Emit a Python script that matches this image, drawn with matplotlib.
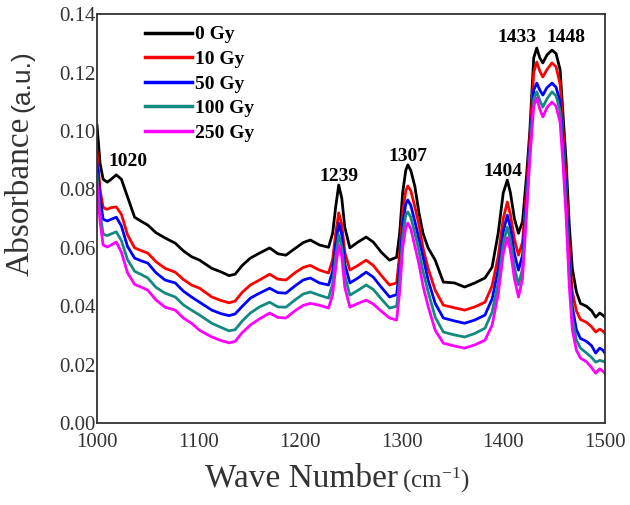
import numpy as np
import matplotlib
matplotlib.use("Agg")
import matplotlib.pyplot as plt

plt.rcParams['font.family'] = ['Liberation Serif', 'DejaVu Serif']
plt.rcParams['mathtext.fontset'] = 'stix'

# wave numbers (cm-1)
wn = [1000, 1003, 1006, 1010, 1014, 1019, 1024, 1030, 1037, 1044, 1050, 1058, 1067, 1077,
      1085, 1093, 1101, 1113, 1122, 1130, 1136, 1143, 1151, 1160, 1170, 1178, 1186, 1195,
      1203, 1210, 1219, 1228, 1232, 1235, 1238, 1241, 1244, 1249, 1257, 1265, 1272, 1280,
      1288, 1295, 1298, 1301, 1304, 1306, 1309, 1313, 1317, 1321, 1326, 1333, 1341, 1352,
      1362, 1372, 1382, 1389, 1395, 1400, 1404, 1407, 1411, 1415, 1419, 1423, 1426, 1430,
      1433, 1436, 1439, 1443, 1448, 1452, 1456, 1459, 1462, 1465, 1468, 1472, 1476, 1482,
      1487, 1491, 1495, 1498, 1500]

gy0 = [0.102, 0.089, 0.0835, 0.0825, 0.0835, 0.085, 0.0835, 0.0775, 0.0705, 0.069, 0.0678,
       0.0652, 0.0634, 0.0616, 0.059, 0.057, 0.0558, 0.053, 0.0518, 0.0505, 0.051, 0.054,
       0.0565, 0.0582, 0.06, 0.058, 0.0575, 0.0598, 0.0618, 0.0627, 0.061, 0.0602, 0.065,
       0.074, 0.0815, 0.077, 0.067, 0.06, 0.062, 0.0637, 0.062, 0.0585, 0.0558, 0.0568,
       0.065, 0.079, 0.0865, 0.0884, 0.0865, 0.081, 0.072, 0.065, 0.06, 0.0558, 0.0483,
       0.048, 0.0466, 0.048, 0.0497, 0.0534, 0.065, 0.0788, 0.0832, 0.079, 0.07, 0.065,
       0.069, 0.085, 0.099, 0.125, 0.1284, 0.125, 0.1233, 0.126, 0.1277, 0.1265, 0.121,
       0.105, 0.089, 0.068, 0.053, 0.045, 0.041, 0.04, 0.0385, 0.0363, 0.0377, 0.037, 0.0363]

gy10 = [0.093, 0.08, 0.0738, 0.0732, 0.0738, 0.074, 0.0715, 0.0645, 0.06, 0.059, 0.0582,
        0.0553, 0.053, 0.0517, 0.0492, 0.0473, 0.0462, 0.0432, 0.042, 0.0412, 0.0418, 0.0448,
        0.0473, 0.049, 0.051, 0.0493, 0.049, 0.0515, 0.0533, 0.054, 0.0524, 0.0514, 0.056,
        0.065, 0.072, 0.068, 0.0585, 0.0524, 0.054, 0.0558, 0.054, 0.0505, 0.0473, 0.048,
        0.058, 0.072, 0.0795, 0.0812, 0.0795, 0.074, 0.068, 0.06, 0.053, 0.0455, 0.0404,
        0.0395, 0.0387, 0.0398, 0.0414, 0.047, 0.057, 0.07, 0.0757, 0.0715, 0.063, 0.0575,
        0.062, 0.08, 0.096, 0.12, 0.1236, 0.1205, 0.1185, 0.121, 0.1233, 0.122, 0.116,
        0.1, 0.083, 0.06, 0.045, 0.0385, 0.0355, 0.0345, 0.033, 0.0312, 0.0322, 0.0315, 0.0308]

gy50 = [0.089, 0.077, 0.0698, 0.0692, 0.0698, 0.0705, 0.0675, 0.0605, 0.0565, 0.0555, 0.0548,
        0.0515, 0.049, 0.048, 0.0452, 0.0432, 0.0414, 0.0387, 0.0375, 0.0368, 0.0374, 0.04,
        0.0428, 0.0445, 0.0462, 0.0447, 0.0445, 0.047, 0.049, 0.0497, 0.048, 0.0473, 0.052,
        0.061, 0.0685, 0.0645, 0.0545, 0.048, 0.0497, 0.0517, 0.05, 0.0465, 0.0432, 0.044,
        0.053, 0.068, 0.075, 0.0764, 0.0745, 0.069, 0.063, 0.057, 0.049, 0.041, 0.036,
        0.035, 0.0342, 0.0353, 0.037, 0.0425, 0.0525, 0.0655, 0.0712, 0.067, 0.058, 0.0524,
        0.0575, 0.077, 0.093, 0.114, 0.1164, 0.114, 0.1123, 0.1148, 0.1164, 0.115, 0.11,
        0.095, 0.078, 0.055, 0.04, 0.032, 0.029, 0.028, 0.0265, 0.024, 0.0257, 0.025, 0.024]

gy100 = [0.085, 0.072, 0.0647, 0.0642, 0.0648, 0.0655, 0.0625, 0.056, 0.052, 0.0508, 0.0497,
         0.0465, 0.0445, 0.0432, 0.0405, 0.0387, 0.037, 0.0342, 0.0328, 0.0316, 0.032, 0.035,
         0.0377, 0.0398, 0.0414, 0.0398, 0.0397, 0.0422, 0.0442, 0.0449, 0.0438, 0.0428, 0.0478,
         0.057, 0.0644, 0.0605, 0.0505, 0.0438, 0.0455, 0.0473, 0.0458, 0.0425, 0.0394, 0.04,
         0.049, 0.064, 0.0712, 0.0723, 0.0705, 0.065, 0.059, 0.052, 0.045, 0.0363, 0.0312,
         0.0302, 0.0295, 0.0307, 0.0325, 0.038, 0.048, 0.0615, 0.0671, 0.0628, 0.0535, 0.0473,
         0.053, 0.074, 0.091, 0.111, 0.1134, 0.1105, 0.1082, 0.111, 0.1134, 0.112, 0.107,
         0.092, 0.074, 0.051, 0.036, 0.0285, 0.0257, 0.024, 0.0225, 0.0209, 0.0215, 0.0212, 0.0209]

gy250 = [0.082, 0.069, 0.061, 0.0603, 0.061, 0.062, 0.0585, 0.0515, 0.0475, 0.0465, 0.0455,
         0.0422, 0.0397, 0.0387, 0.036, 0.0342, 0.0318, 0.0295, 0.0283, 0.0275, 0.028, 0.031,
         0.0336, 0.0357, 0.0377, 0.0362, 0.036, 0.0385, 0.0403, 0.041, 0.0404, 0.0394, 0.044,
         0.053, 0.061, 0.057, 0.0465, 0.0397, 0.041, 0.0421, 0.0408, 0.0383, 0.036, 0.0353,
         0.045, 0.06, 0.067, 0.0685, 0.0665, 0.0605, 0.0545, 0.047, 0.04, 0.0318, 0.0274,
         0.0264, 0.0257, 0.0268, 0.0284, 0.0335, 0.044, 0.058, 0.0635, 0.059, 0.0495, 0.0432,
         0.0495, 0.072, 0.0895, 0.1085, 0.1113, 0.1075, 0.1048, 0.108, 0.1099, 0.1085, 0.103,
         0.088, 0.07, 0.047, 0.032, 0.025, 0.0223, 0.021, 0.019, 0.0171, 0.0186, 0.0178, 0.0171]

labels = ['0 Gy', '10 Gy', '50 Gy', '100 Gy', '250 Gy']
colors = ['#000000', '#ff0000', '#0000ff', '#138a80', '#ff00ff']

peak_labels = ['1020', '1239', '1307', '1404', '1433', '1448']
peak_x = [1030.5, 1238, 1306, 1399.5, 1413, 1461.5]
peak_y = [0.0894, 0.0846, 0.0914, 0.0863, 0.1319, 0.1319]

fig = plt.figure(figsize=(6.3, 5.05), dpi=100)
ax = fig.add_axes([0.154, 0.162, 0.806, 0.810])

for ys, lab, c in zip([gy0, gy10, gy50, gy100, gy250], labels, colors):
    ax.plot(wn, ys, color=c, lw=2.0, label=lab, solid_joinstyle='round')

for t, px, py in zip(peak_labels, peak_x, peak_y):
    ax.text(px, py, t, ha='center', va='center', fontsize=14, fontweight='bold')

ax.set_xlim(1000, 1500)
ax.set_ylim(0, 0.14)
ax.set_xticks([1000, 1100, 1200, 1300, 1400, 1500])
ax.set_yticks(np.arange(0, 0.141, 0.02))
ax.yaxis.set_major_formatter(matplotlib.ticker.FormatStrFormatter('%.2f'))
ax.tick_params(length=0, labelsize=15, colors='#333333')
ax.tick_params(axis='y', pad=1)
ax.tick_params(axis='x', pad=7)
for s in ax.spines.values():
    s.set_color('#333333')
    s.set_linewidth(1.3)

leg = ax.legend(loc='upper left', bbox_to_anchor=(0.072, 1.0), frameon=False,
                prop={'weight': 'bold', 'size': 14}, handlelength=2.4,
                handletextpad=0.15, labelspacing=0.36, borderaxespad=0.2)
for h in leg.get_lines():
    h.set_linewidth(2.5)

# y label: "Absorbance" plus smaller "(a.u.)"
fig.text(0.033, 0.612, 'Absorbance', rotation=90, ha='center', va='center',
         fontsize=24, color='#333333')
fig.text(0.036, 0.84, '(a.u.)', rotation=90, ha='center', va='center',
         fontsize=19, color='#333333', family=['Liberation Sans', 'DejaVu Sans'])

# x label: "Wave Number" plus smaller "(cm-1)"
fig.text(398 / 630, 0.036, 'Wave Number', ha='right', va='baseline',
         fontsize=24, color='#333333')
fig.text(402 / 630, 0.034, r'(cm$^{\mathregular{-1}}$)', ha='left', va='baseline',
         fontsize=18, color='#333333')

fig.savefig('out.png', dpi=100)
